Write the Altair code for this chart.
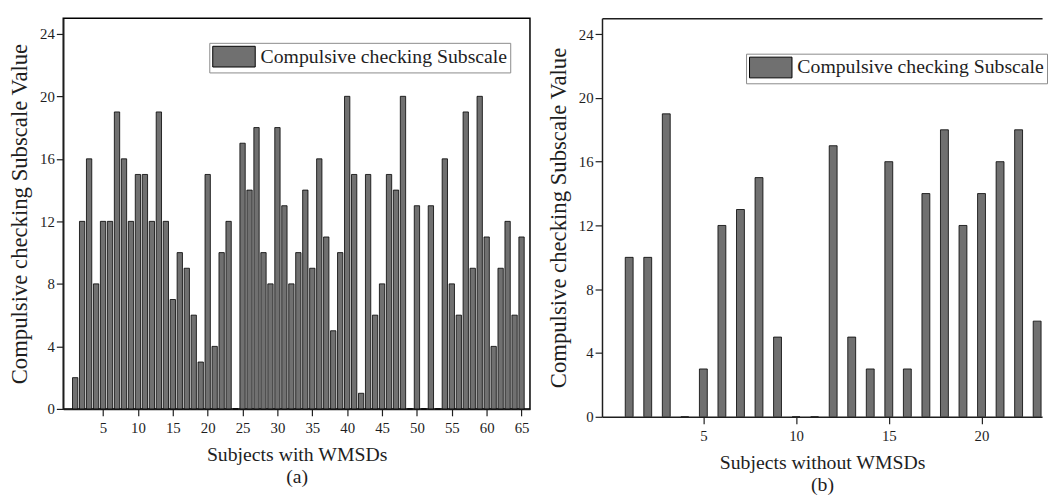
import altair as alt
import pandas as pd

# ---- data ----
with_subjects = list(range(1, 66))
with_values = [2, 12, 16, 8, 12, 12, 19, 16, 12, 15,
               15, 12, 19, 12, 7, 10, 9, 6, 3, 15,
               4, 10, 12, 0, 17, 14, 18, 10, 8, 18,
               13, 8, 10, 14, 9, 16, 11, 5, 10, 20,
               15, 1, 15, 6, 8, 15, 14, 20, 0, 13,
               0, 13, 0, 16, 8, 6, 19, 9, 20, 11,
               4, 9, 12, 6, 11]
without_subjects = list(range(1, 24))
without_values = [10, 10, 19, 0, 3, 12, 13, 15, 5, 0,
                  0, 17, 5, 3, 16, 3, 14, 18, 12, 14,
                  16, 18, 6]
series_name = "Compulsive checking Subscale"
x_ticks_a = list(range(5, 66, 5))
x_ticks_b = [5, 10, 15, 20]
y_ticks = [0, 4, 8, 12, 16, 20, 24]
y_title = "Compulsive checking Subscale Value"
x_title_a = ["Subjects with WMSDs", "(a)"]
x_title_b = ["Subjects without WMSDs", "(b)"]

FONT = "Liberation Serif"
INK = "#1e1e1e"
BAR = "#707070"

df_a = pd.DataFrame({"subject": with_subjects, "value": with_values, "series": series_name})
df_b = pd.DataFrame({"subject": without_subjects, "value": without_values, "series": series_name})


def x_axis(values, title, line_height):
    return alt.Axis(values=values, title=title, labelFont=FONT, labelFontSize=15,
                    labelColor=INK, titleFont=FONT, titleFontSize=20,
                    titleFontWeight="normal", titleColor=INK, titleLineHeight=line_height,
                    titlePadding=9, tickColor=INK, domainColor=INK, tickSize=7,
                    tickWidth=1.2, domainWidth=1.5, grid=False, labelPadding=5,
                    labelFlush=False)


def y_axis():
    return alt.Axis(values=y_ticks, title=y_title, labelFont=FONT, labelFontSize=15,
                    labelColor=INK, titleFont=FONT, titleFontSize=23,
                    titleFontWeight="normal", titleColor=INK, titlePadding=8,
                    tickColor=INK, domainColor=INK, tickSize=7, tickWidth=1.2,
                    domainWidth=1.5, grid=False, labelPadding=2, labelFlush=False)


def legend(lx, ly):
    return alt.Legend(title=None, orient="none", legendX=lx, legendY=ly,
                      labelFont=FONT, labelFontSize=20, labelColor=INK, labelLimit=1000,
                      symbolType="M-1,-1H3.1V1H-1Z", symbolSize=441,
                      symbolStrokeColor="black", symbolStrokeWidth=1,
                      strokeColor="#8a8a8a", fillColor="white", padding=3,
                      labelOffset=27)


left = alt.Chart(df_a).mark_bar(size=5.4, stroke="black", strokeWidth=0.8).encode(
    x=alt.X("subject:Q", scale=alt.Scale(domain=[0, 65.5], nice=False, zero=False),
            axis=x_axis(x_ticks_a, x_title_a, 23)),
    y=alt.Y("value:Q", scale=alt.Scale(domain=[0, 25], nice=False), axis=y_axis()),
    fill=alt.Fill("series:N", scale=alt.Scale(range=[BAR]), legend=legend(148, 25)),
).properties(width=473, height=396,
             view=alt.ViewBackground(stroke="black", strokeWidth=1.5))

bars_b = alt.Chart(df_b).mark_bar(size=8, stroke="black", strokeWidth=0.8, clip=True).encode(
    x=alt.X("subject:Q", scale=alt.Scale(domain=[-0.2, 23.0], nice=False, zero=False),
            axis=x_axis(x_ticks_b, x_title_b, 23)),
    y=alt.Y("value:Q", scale=alt.Scale(domain=[0, 25], nice=False), axis=y_axis()),
    fill=alt.Fill("series:N", scale=alt.Scale(range=[BAR]), legend=legend(146, 36)),
)
top_b = alt.Chart(df_b).mark_bar(opacity=0, clip=True).encode(
    x=alt.X("subject:Q", axis=alt.Axis(orient="top", labels=False, ticks=False,
                                        title=None, domainColor=INK, domainWidth=1.5,
                                        grid=False)),
    y=alt.Y("value:Q"),
)
right = alt.layer(bars_b, top_b).resolve_axis(x="independent").properties(
    width=446, height=404,
    view=alt.ViewBackground(stroke="transparent"))

chart = alt.hconcat(left, right, spacing=16).resolve_scale(
    x="independent", y="independent", fill="independent"
).properties(
    padding={"left": 0, "top": 6, "right": 0, "bottom": 0},
    background="white",
)

chart.save("out.html", embed_options={"renderer": "svg", "actions": False})
